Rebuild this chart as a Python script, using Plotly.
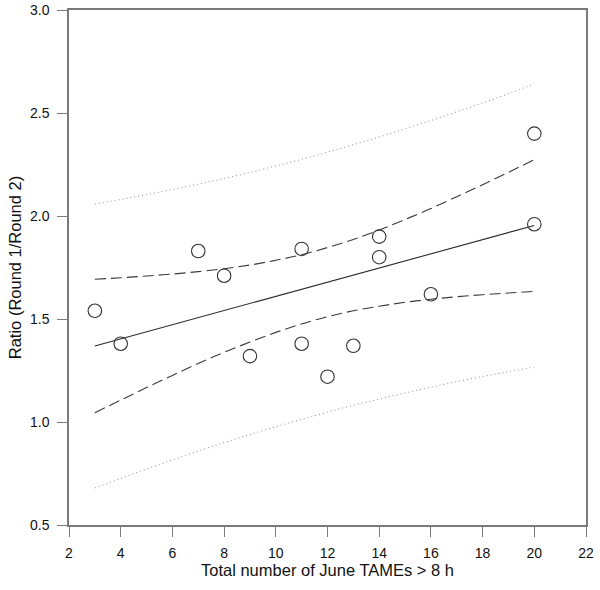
import plotly.graph_objects as go

# Observed data points
x_obs = [3, 4, 7, 8, 9, 11, 11, 12, 13, 14, 14, 16, 20, 20]
y_obs = [1.54, 1.38, 1.83, 1.71, 1.32, 1.84, 1.38, 1.22, 1.37, 1.90, 1.80, 1.62, 2.40, 1.96]

# Regression line (endpoints)
x_fit = [3, 20]
y_fit = [1.369, 1.954]

# Band curves read at integer x
x_band = [3, 4, 5, 6, 7, 8, 9, 10, 11, 12, 13, 14, 15, 16, 17, 18, 19, 20]
upper_ci = [1.693, 1.700, 1.709, 1.718, 1.730, 1.744, 1.762, 1.785, 1.812,
            1.847, 1.886, 1.932, 1.983, 2.036, 2.094, 2.152, 2.212, 2.274]
lower_ci = [1.045, 1.106, 1.167, 1.226, 1.284, 1.338, 1.388, 1.435, 1.476,
            1.511, 1.540, 1.562, 1.581, 1.596, 1.608, 1.618, 1.626, 1.634]
upper_pi = [2.058, 2.080, 2.104, 2.128, 2.155, 2.182, 2.211, 2.243, 2.275,
            2.310, 2.346, 2.383, 2.423, 2.463, 2.506, 2.549, 2.594, 2.642]
lower_pi = [0.680, 0.726, 0.772, 0.816, 0.859, 0.900, 0.939, 0.977, 1.013,
            1.048, 1.081, 1.111, 1.141, 1.169, 1.196, 1.221, 1.244, 1.267]

x_ticks = [2, 4, 6, 8, 10, 12, 14, 16, 18, 20, 22]
y_ticks = [0.5, 1.0, 1.5, 2.0, 2.5, 3.0]

fig = go.Figure()

for yy in (upper_pi, lower_pi):
    fig.add_trace(go.Scatter(x=x_band, y=yy, mode="lines",
                             line=dict(color="#8a8a8a", width=1, dash="1px,3px"),
                             line_shape="spline", hoverinfo="skip"))
for yy in (upper_ci, lower_ci):
    fig.add_trace(go.Scatter(x=x_band, y=yy, mode="lines",
                             line=dict(color="#3a3a3a", width=1.1, dash="11px,5px"),
                             line_shape="spline", hoverinfo="skip"))

fig.add_trace(go.Scatter(x=x_fit, y=y_fit, mode="lines",
                         line=dict(color="#2a2a2a", width=1.1)))

fig.add_trace(go.Scatter(x=x_obs, y=y_obs, mode="markers",
                         marker=dict(symbol="circle-open", size=13.5,
                                     color="#333333", line=dict(width=1.1))))

axis_common = dict(
    showgrid=False, zeroline=False, automargin=False,
    showline=True, linecolor="#7a7a7a", linewidth=1.5, mirror=True,
    ticks="outside", ticklen=10, tickwidth=1, tickcolor="#7a7a7a",
    tickfont=dict(family="Liberation Sans, Arial, sans-serif", size=14, color="#111"),
)

fig.update_layout(
    width=600, height=590,
    margin=dict(l=69, r=14, t=10, b=65),
    paper_bgcolor="white", plot_bgcolor="white",
    showlegend=False,
    font=dict(family="Liberation Sans, Arial, sans-serif", color="#111"),
    xaxis=dict(range=[2, 22], tickvals=x_ticks, ticklabelstandoff=4,
               title=dict(text="Total number of June TAMEs > 8 h",
                          font=dict(size=16.5), standoff=4),
               **axis_common),
    yaxis=dict(range=[0.5, 3.0], tickvals=y_ticks, tickformat=".1f",
               ticklabelstandoff=5,
               title=dict(text="Ratio (Round 1/Round 2)",
                          font=dict(size=16.5), standoff=4),
               **axis_common),
)

# Remove the default page margin so the figure sits at the window's corner.
fig.write_html("out.html",
               config={"displayModeBar": False},
               post_script="document.body.style.margin='0';document.body.style.overflow='hidden';")
